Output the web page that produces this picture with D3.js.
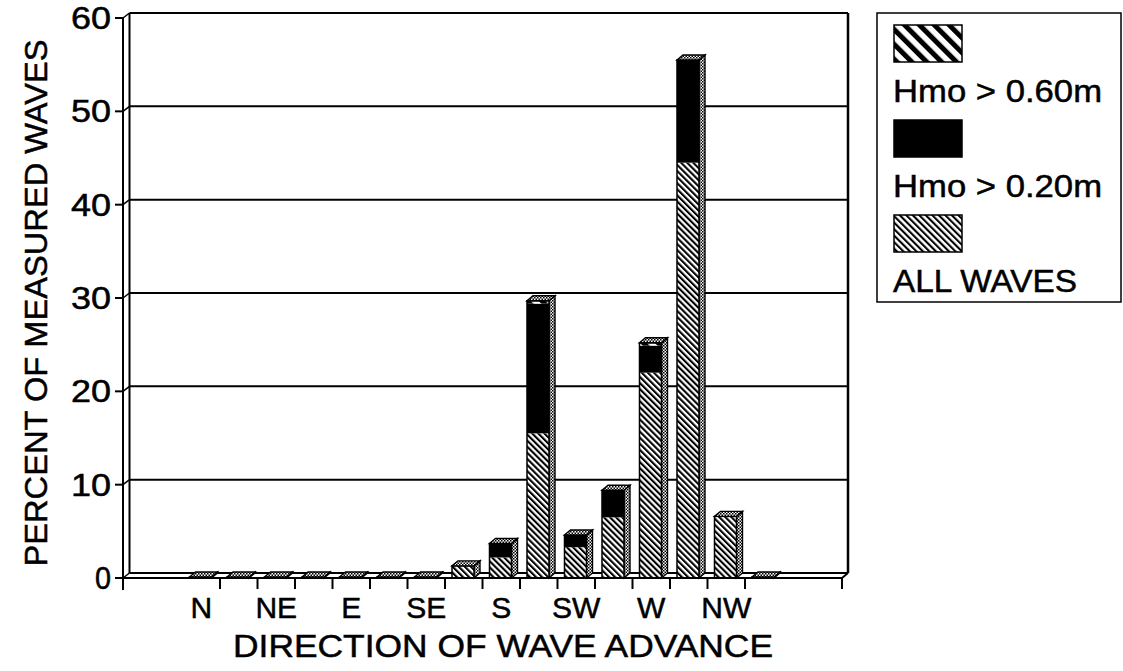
<!DOCTYPE html>
<html><head><meta charset="utf-8">
<script src="https://cdn.jsdelivr.net/npm/d3@7/dist/d3.min.js"></script>
<style>
html,body{margin:0;padding:0;background:#fff;}
svg{display:block;font-family:"Liberation Sans",Arial,Helvetica,sans-serif;}
svg text{stroke:#000;stroke-width:0.5px;}
</style></head>
<body>
<svg id="chart" width="1123" height="671"></svg>
<script>
// ---- data ----
const directions = ["N","NNE","NE","ENE","E","ESE","SE","SSE","S","SSW","SW","WSW","W","WNW","NW","NNW"];
const tickLabels = ["N","","NE","","E","","SE","","S","","SW","","W","","NW",""];
const allWaves = [0.1,0.1,0.1,0.1,0.1,0.1,0.1,1.3,2.2,15.5,3.3,6.5,22.0,44.5,6.6,0.1];
const hmo020   = [0,0,0,0,0,0,0,0,1.5,13.9,1.3,2.9,2.9,11.0,0,0];
const hmo060   = [0,0,0,0,0,0,0,0,0,0.3,0,0,0.3,0,0,0];
const yTicks = [0,10,20,30,40,50,60];
const legendItems = [
  {label:"Hmo > 0.60m", fill:"url(#stripe)"},
  {label:"Hmo > 0.20m", fill:"#000"},
  {label:"ALL WAVES", fill:"url(#hatchL)"}
];

// ---- layout ----
const svg = d3.select("#chart");
const X0 = 123, X1 = 842, Y0 = 578, Y1 = 18;   // front plane
const DX = 6, DY = 5;                          // depth offset
const x = d3.scaleBand().domain(directions).range([X0, X1]).paddingInner(0).paddingOuter(1.587);
const y = d3.scaleLinear().domain([0,60]).range([Y0, Y1]);
const FW = 22, FOFF = 7;

// ---- patterns ----
const defs = svg.append("defs");
function stripes(id, period, w){
  const p = defs.append("pattern").attr("id", id).attr("patternUnits","userSpaceOnUse")
    .attr("width", period).attr("height", period).attr("patternTransform","rotate(-45)");
  p.append("rect").attr("width", period).attr("height", period).attr("fill","#fff");
  p.append("rect").attr("width", w).attr("height", period).attr("fill","#000");
}
stripes("hatch", 4.3, 2.1);
stripes("hatchL", 4.6, 2.1);
stripes("stripe", 10.5, 5);
const dp = defs.append("pattern").attr("id","dots").attr("patternUnits","userSpaceOnUse")
  .attr("width",3).attr("height",3);
dp.append("rect").attr("width",3).attr("height",3).attr("fill","#fff");
dp.append("rect").attr("width",1.5).attr("height",1.5).attr("fill","#000");
dp.append("rect").attr("x",1.5).attr("y",1.5).attr("width",1.5).attr("height",1.5).attr("fill","#000");

const line = (x1,y1,x2,y2,w=2) => svg.append("line").attr("x1",x1).attr("y1",y1).attr("x2",x2).attr("y2",y2)
  .attr("stroke","#000").attr("stroke-width",w);

// ---- back wall & gridlines ----
const BX0 = X0 + DX + 0.5, BX1 = X1 + DX;
yTicks.forEach(v => {
  if (v > 0) line(BX0, y(v)-DY, BX1, y(v)-DY, 2);
  line(X0, y(v), BX0, y(v)-DY, 1.5);
});
line(BX0, y(60)-DY, BX0, y(0)-DY, 2);
line(BX1, y(60)-DY, BX1, y(0)-DY, 2.5);
line(BX0, y(0)-DY, BX1, y(0)-DY, 2);
line(BX1, y(0)-DY, X1, Y0, 2);

// ---- bars ----
const stackData = directions.map((d,i) => {
  const segs = [
    {v0:0, v1:allWaves[i], fill:"url(#hatch)"},
    {v0:allWaves[i], v1:allWaves[i]+hmo020[i], fill:"#000"},
    {v0:allWaves[i]+hmo020[i], v1:allWaves[i]+hmo020[i]+hmo060[i], fill:"url(#stripe)"}
  ];
  return {dir:d, segs, total:allWaves[i]+hmo020[i]+hmo060[i]};
});
const bars = svg.append("g").selectAll("g").data(stackData).join("g");
bars.each(function(d){
  const g = d3.select(this);
  const bx = x(d.dir) + FOFF;
  const yt = y(d.total), yb = y(0);
  // side face
  g.append("polygon")
    .attr("points", [[bx+FW,yt],[bx+FW+DX,yt-DY],[bx+FW+DX,yb-DY],[bx+FW,yb]].join(" "))
    .attr("fill","url(#dots)").attr("stroke","#000").attr("stroke-width",1.4);
  // front segments
  d.segs.filter(s => s.v1 > s.v0).forEach(s => {
    g.append("rect").attr("x",bx).attr("width",FW)
      .attr("y", y(s.v1)).attr("height", y(s.v0)-y(s.v1))
      .attr("fill", s.fill);
  });
  g.append("rect").attr("x",bx).attr("width",FW).attr("y",yt).attr("height",yb-yt)
    .attr("fill","none").attr("stroke","#000").attr("stroke-width",1.5);
  // top face
  g.append("polygon")
    .attr("points", [[bx,yt],[bx+DX,yt-DY],[bx+FW+DX,yt-DY],[bx+FW,yt]].join(" "))
    .attr("fill","url(#dots)").attr("stroke","#000").attr("stroke-width",1.4);
});

// ---- front axes ----
line(X0, Y1, X0, Y0+12, 2);
line(X0-8, Y0, X1, Y0, 2);
yTicks.forEach(v => line(X0-8, y(v), X0, y(v), 2));
const bounds = directions.slice(1).map(d => x(d));
[X0, ...bounds, X1].forEach(bx => line(bx, Y0, bx, Y0+11, 2));

// y tick labels
svg.append("g").selectAll("text").data(yTicks).join("text")
  .attr("x", 111).attr("y", v => y(v)).attr("dy","0.36em")
  .attr("text-anchor","end").attr("font-size",31)
  .attr("textLength", v => v === 0 ? 16 : 40).attr("lengthAdjust","spacingAndGlyphs")
  .text(v => v);

// x tick labels
svg.append("g").selectAll("text").data(directions).join("text")
  .attr("x", d => x(d) + x.bandwidth()/2).attr("y", 618)
  .attr("text-anchor","middle").attr("font-size",30)
  .text((d,i) => tickLabels[i]);

// axis titles
svg.append("text").attr("x",503).attr("y",657).attr("text-anchor","middle")
  .attr("font-size",32).attr("textLength",540).attr("lengthAdjust","spacingAndGlyphs")
  .text("DIRECTION OF WAVE ADVANCE");
svg.append("text").attr("transform","translate(47,303) rotate(-90)").attr("text-anchor","middle")
  .attr("font-size",32).attr("textLength",527).attr("lengthAdjust","spacingAndGlyphs")
  .text("PERCENT OF MEASURED WAVES");

// ---- legend ----
const lg = svg.append("g");
lg.append("rect").attr("x",877).attr("y",13).attr("width",244).attr("height",289)
  .attr("fill","#fff").attr("stroke","#000").attr("stroke-width",1.5);
legendItems.forEach((it,i) => {
  const top = 25 + i*95;
  lg.append("rect").attr("x",894).attr("y",top).attr("width",68).attr("height",37)
    .attr("fill",it.fill).attr("stroke","#000").attr("stroke-width",1.5);
  lg.append("text").attr("x",893).attr("y",top+77).attr("font-size",32)
    .attr("textLength", i===2 ? 184 : 209).attr("lengthAdjust","spacingAndGlyphs")
    .text(it.label);
});
</script>
</body></html>
